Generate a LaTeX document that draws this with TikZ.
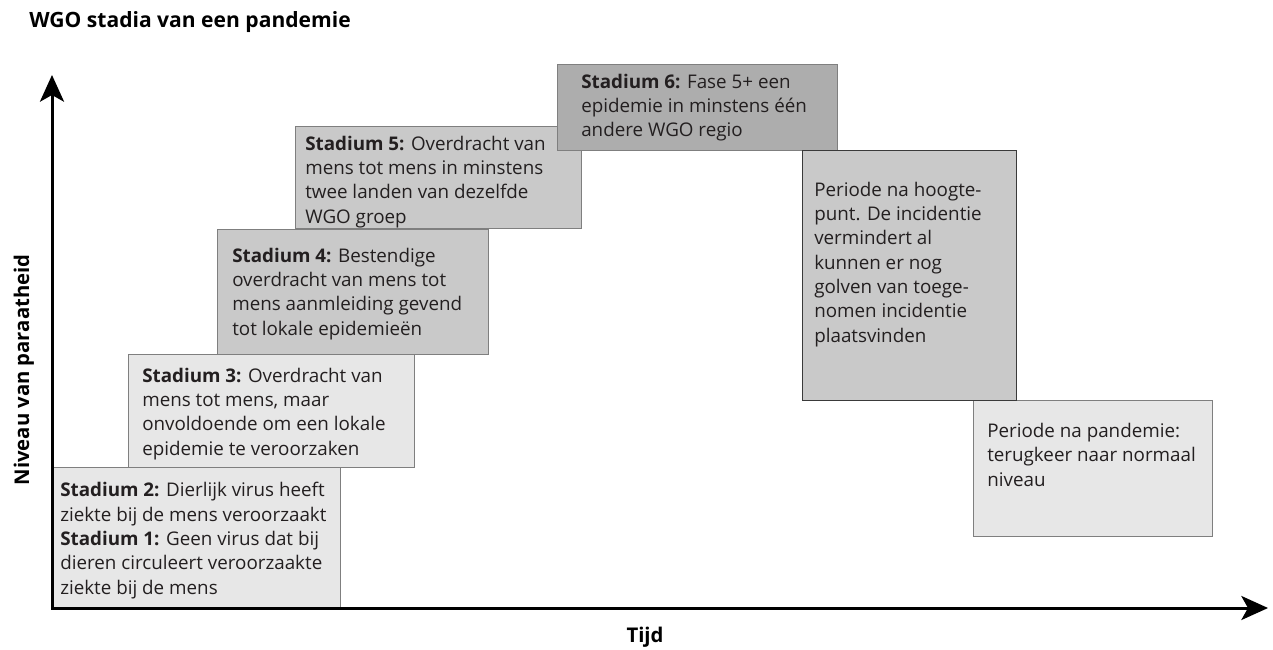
\documentclass[tikz,border=0pt]{standalone}
\usepackage{fontspec}
\setmainfont{Open Sans}
\usetikzlibrary{arrows.meta}
\definecolor{lightfill}{HTML}{E7E7E7}
\definecolor{midfill}{HTML}{C9C9C9}
\definecolor{darkfill}{HTML}{ADADAD}
\definecolor{boxline}{HTML}{7F7F7F}
\definecolor{darkline}{HTML}{3A3A3A}
\definecolor{ink}{HTML}{231F20}
\begin{document}
\begin{tikzpicture}[x=0.75pt,y=-0.75pt,
  box/.style={draw=boxline, line width=0.9pt, inner sep=0pt, anchor=north west},
  txt/.style={anchor=base west, align=left, inner sep=0pt, text=ink,
    font=\fontsize{14.1}{18.2}\selectfont},
  axisline/.style={line width=2.25pt, draw=black,
    {Stealth[length=20pt,width=18pt,inset=5pt]}-{Stealth[length=20pt,width=18pt,inset=5pt]}},
  lbl/.style={font=\bfseries\fontsize{15.2}{18}\selectfont, inner sep=0pt, text=black}]
\useasboundingbox (0,0) rectangle (1273,649);

% boxes
\node[box, fill=lightfill, minimum width=215.25pt, minimum height=105.75pt] (b1) at (53,467) {};
\node[box, fill=lightfill, minimum width=214.5pt, minimum height=84.75pt] (b3) at (128,354) {};
\node[box, fill=midfill, minimum width=203.25pt, minimum height=93.75pt] (b4) at (217,229) {};
\node[box, fill=midfill, minimum width=214.5pt, minimum height=76.5pt] (b5) at (295,126) {};
\node[box, fill=darkfill, minimum width=210pt, minimum height=64.5pt] (b6) at (557,64) {};
\node[box, fill=lightfill, minimum width=179.25pt, minimum height=102pt] (bp) at (973,400) {};
\node[box, fill=midfill, draw=darkline, minimum width=160.5pt, minimum height=187.5pt] (bh) at (802,150) {};

% texts (anchored at the baseline of their last line)
\node[txt] (t1) at (60,594) {\textbf{Stadium 2:} Dierlijk virus heeft\\ziekte bij de mens veroorzaakt\\\textbf{Stadium 1:} Geen virus dat bij\\dieren circuleert veroorzaakte\\ziekte bij de mens};
\node[txt] (t3) at (142,455) {\textbf{Stadium 3:} Overdracht van\\mens tot mens, maar\\onvoldoende om een lokale\\epidemie te veroorzaken};
\node[txt] (t4) at (232,335) {\textbf{Stadium 4:} Bestendige\\overdracht van mens tot\\mens aanmleiding gevend\\tot lokale epidemieën};
\node[txt] (t5) at (305,223) {\textbf{Stadium 5:} Overdracht van\\mens tot mens in minstens\\twee landen van dezelfde\\WGO groep};
\node[txt] (t6) at (581,137) {\textbf{Stadium 6:} Fase 5+ een\\epidemie in minstens één\\andere WGO regio};
\node[txt] (th) at (814,342) {Periode na hoogte-\\punt. De incidentie\\vermindert al\\kunnen er nog\\golven van toege-\\nomen incidentie\\plaatsvinden};
\node[txt] (tp) at (987,486) {Periode na pandemie:\\terugkeer naar normaal\\niveau};

% axes
\coordinate (o) at (52,608);
\coordinate (ytip) at (52,75);
\coordinate (xtip) at (1268,608);
\draw[axisline] (ytip) -- (o) -- (xtip);

% labels
\node[lbl, anchor=base west, font=\bfseries\fontsize{15.8}{18}\selectfont] (title) at (29,28) {WGO stadia van een pandemie};
\node[lbl, rotate=90, anchor=base] (ylab) at (29,370) {Niveau van paraatheid};
\node[lbl, anchor=base] (xlab) at (645,642) {Tijd};
\end{tikzpicture}
\end{document}
